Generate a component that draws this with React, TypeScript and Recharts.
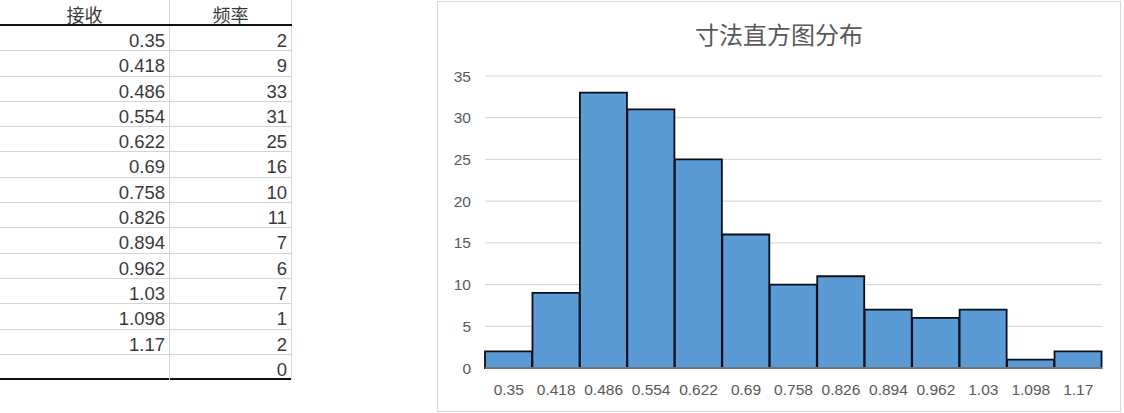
import React from 'react';
import { BarChart, Bar, XAxis, YAxis, CartesianGrid } from 'recharts';

const binLabels = ['0.35', '0.418', '0.486', '0.554', '0.622', '0.69', '0.758', '0.826', '0.894', '0.962', '1.03', '1.098', '1.17'];
const frequencies = [2, 9, 33, 31, 25, 16, 10, 11, 7, 6, 7, 1, 2];
const otherCount = 0;
const yTicks = [0, 5, 10, 15, 20, 25, 30, 35];
const headerLabels = ['接收', '频率'];
const chartTitle = '寸法直方图分布';

const chartData = binLabels.map((b, i) => ({ bin: b, freq: frequencies[i] }));
const tableRows = [...binLabels.map((b, i) => ({ bin: b, freq: frequencies[i] })), { bin: '', freq: otherCount }];

const ROW_H = 25.3;
const COL1 = 170;
const COL2 = 122;

const cellBase: React.CSSProperties = {
  boxSizing: 'border-box',
  height: ROW_H,
  lineHeight: `${ROW_H}px`,
  fontSize: 18.5,
  color: '#3a3a3a',
  fontFamily: '"Liberation Sans", Arial, sans-serif',
  whiteSpace: 'nowrap',
};

const tickFont = { fill: '#595959', fontSize: 15.5, fontFamily: '"Liberation Sans", Arial, sans-serif' };

export default function App() {
  return (
    <div style={{ position: 'fixed', left: 0, top: 0, width: 1124, height: 413, background: '#fff', overflow: 'hidden' }}>
      {/* table */}
      <div style={{ position: 'absolute', left: 0, top: 0, width: COL1 + COL2 }}>
        <div style={{ display: 'flex', borderBottom: '2.5px solid #111', height: 26, boxSizing: 'border-box' }}>
          {headerLabels.map((h, i) => (
            <div
              key={h}
              style={{
                ...cellBase,
                height: 24,
                lineHeight: '24px',
                paddingTop: 2,
                width: i === 0 ? COL1 : COL2,
                textAlign: 'center',
                borderRight: '1px solid #d4d4d4',
                fontFamily: '"Noto Sans CJK SC", sans-serif',
                fontSize: 18,
              }}
            >
              {h}
            </div>
          ))}
        </div>
        {tableRows.map((r, idx) => (
          <div
            key={idx}
            style={{
              display: 'flex',
              borderBottom: idx === tableRows.length - 1 ? '2.5px solid #111' : '1px solid #d4d4d4',
              height: ROW_H,
              boxSizing: 'border-box',
            }}
          >
            <div style={{ ...cellBase, width: COL1, textAlign: 'right', paddingRight: 4, borderRight: '1px solid #d4d4d4', lineHeight: `${ROW_H + 4}px` }}>
              {r.bin}
            </div>
            <div style={{ ...cellBase, width: COL2, textAlign: 'right', paddingRight: 4, borderRight: '1px solid #d4d4d4', lineHeight: `${ROW_H + 4}px` }}>
              {r.freq}
            </div>
          </div>
        ))}
      </div>

      {/* chart frame */}
      <div
        style={{
          position: 'absolute',
          left: 437,
          top: 1,
          width: 684,
          height: 411,
          border: '1px solid #d9d9d9',
          boxSizing: 'border-box',
        }}
      >
        <div
          style={{
            position: 'absolute',
            left: 0,
            top: 18,
            width: '100%',
            textAlign: 'center',
            fontSize: 24,
            lineHeight: '28px',
            color: '#595959',
            fontFamily: '"Noto Sans CJK SC", sans-serif',
          }}
        >
          {chartTitle}
        </div>
        <div style={{ position: 'absolute', left: -1, top: -2 }}>
          <BarChart
            width={684}
            height={413}
            data={chartData}
            margin={{ top: 76, right: 19, left: 0, bottom: 0 }}
            barCategoryGap={0}
          >
            <CartesianGrid vertical={false} stroke="#d9d9d9" strokeWidth={1.2} />
            <XAxis
              dataKey="bin"
              height={45}
              axisLine={{ stroke: '#d9d9d9' }}
              tickLine={false}
              tickSize={0}
              tickMargin={16}
              interval={0}
              tick={tickFont}
            />
            <YAxis
              width={48}
              domain={[0, 35]}
              ticks={yTicks}
              axisLine={false}
              tickLine={false}
              tickSize={0}
              tickMargin={14}
              tick={tickFont}
            />
            <Bar dataKey="freq" fill="#5B9BD5" stroke="#0a0f1a" strokeWidth={1.8} isAnimationActive={false} />
          </BarChart>
        </div>
      </div>
    </div>
  );
}
